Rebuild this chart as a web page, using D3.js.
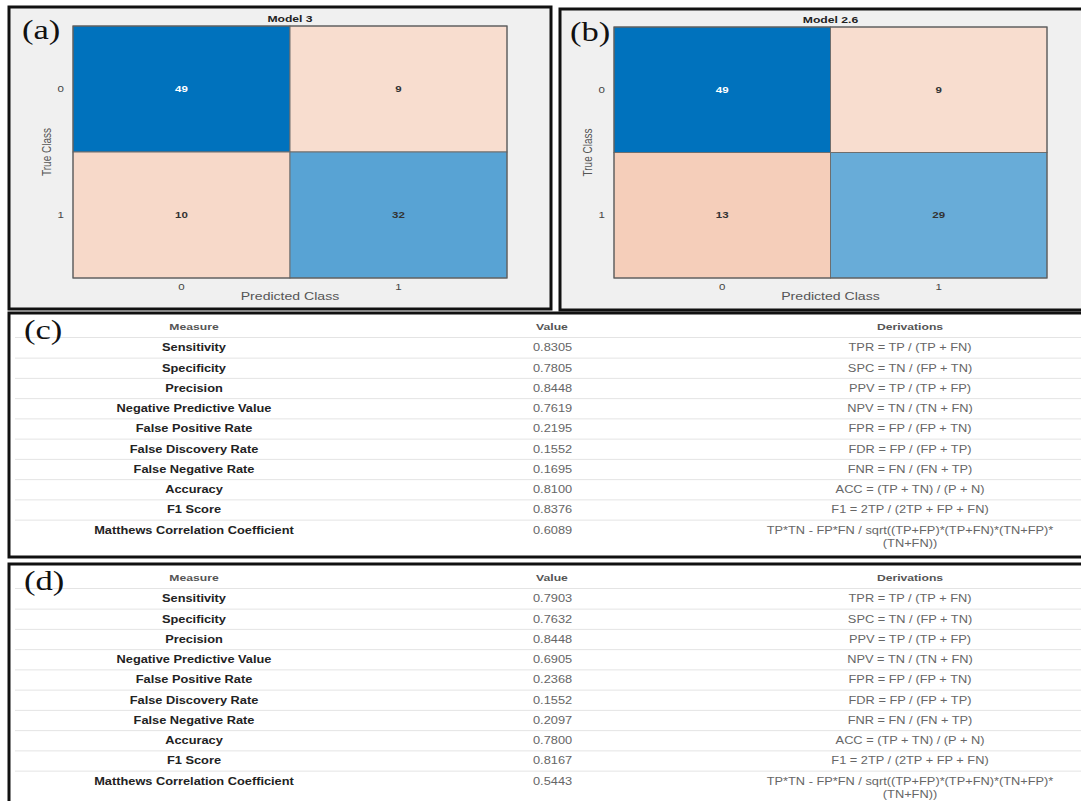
<!DOCTYPE html>
<html>
<head>
<meta charset="utf-8">
<script src="https://cdn.jsdelivr.net/npm/d3@7"></script>
<style>
  html, body { margin: 0; padding: 0; background: #ffffff; }
  svg { display: block; }
</style>
</head>
<body>
<svg id="fig" width="1081" height="801"></svg>
<script>
// ---- data -------------------------------------------------------------
const classes = ["0", "1"];
const model3Counts = [[49, 9], [10, 32]];
const model26Counts = [[49, 9], [13, 29]];

const measures = [
  "Sensitivity", "Specificity", "Precision", "Negative Predictive Value",
  "False Positive Rate", "False Discovery Rate", "False Negative Rate",
  "Accuracy", "F1 Score", "Matthews Correlation Coefficient"
];
const model3Values = ["0.8305", "0.7805", "0.8448", "0.7619", "0.2195",
  "0.1552", "0.1695", "0.8100", "0.8376", "0.6089"];
const model26Values = ["0.7903", "0.7632", "0.8448", "0.6905", "0.2368",
  "0.1552", "0.2097", "0.7800", "0.8167", "0.5443"];
const derivations = [
  ["TPR = TP / (TP + FN)"],
  ["SPC = TN / (FP + TN)"],
  ["PPV = TP / (TP + FP)"],
  ["NPV = TN / (TN + FN)"],
  ["FPR = FP / (FP + TN)"],
  ["FDR = FP / (FP + TP)"],
  ["FNR = FN / (FN + TP)"],
  ["ACC = (TP + TN) / (P + N)"],
  ["F1 = 2TP / (2TP + FP + FN)"],
  ["TP*TN - FP*FN / sqrt((TP+FP)*(TP+FN)*(TN+FP)*", "(TN+FN))"]
];
const tableHeaders = ["Measure", "Value", "Derivations"];

// ---- helpers ------------------------------------------------------------
const svg = d3.select("#fig");
const SX = 1.28;   // glyphs are drawn slightly wide

function label(g, x, y, str, o = {}) {
  return g.append("text")
    .attr("transform", `translate(${x},${y}) scale(${SX},1)`)
    .attr("text-anchor", o.anchor || "middle")
    .attr("dominant-baseline", o.baseline || "central")
    .attr("font-family", o.family || "Arial, 'Liberation Sans', Helvetica, sans-serif")
    .attr("font-size", o.size || 10)
    .attr("font-weight", o.weight || "normal")
    .attr("fill", o.fill || "#333")
    .text(str);
}

const allCounts = model3Counts.flat().concat(model26Counts.flat());
const maxCount = d3.max(allCounts);
const diagColor = d3.scaleLinear().domain([0, maxCount]).range(["#ffffff", "#0072BD"]);
const offColor = d3.scaleLinear().domain([0, maxCount]).range(["#ffffff", "#D95319"])
  .interpolate(d3.interpolateRgb.gamma(0.8));

// ---- confusion matrix panel ------------------------------------------
function matrixPanel(cfg) {
  const g = svg.append("g");
  g.append("rect")
    .attr("x", cfg.box[0]).attr("y", cfg.box[1])
    .attr("width", cfg.box[2] - cfg.box[0]).attr("height", cfg.box[3] - cfg.box[1])
    .attr("fill", "#f0f0f0").attr("stroke", "#111").attr("stroke-width", 3);

  const x = d3.scaleBand().domain(classes).range([cfg.plot[0], cfg.plot[2]]);
  const y = d3.scaleBand().domain(classes).range([cfg.plot[1], cfg.plot[3]]);

  const cells = [];
  cfg.counts.forEach((row, i) => row.forEach((v, j) =>
    cells.push({ t: classes[i], p: classes[j], v, diag: i === j })));

  g.selectAll("rect.cell").data(cells).join("rect")
    .attr("class", "cell")
    .attr("x", d => x(d.p)).attr("y", d => y(d.t))
    .attr("width", x.bandwidth()).attr("height", y.bandwidth())
    .attr("fill", d => d.diag ? diagColor(d.v) : offColor(d.v))
    .attr("stroke", "#6e6e6e").attr("stroke-width", 1);

  g.append("rect")
    .attr("x", cfg.plot[0]).attr("y", cfg.plot[1])
    .attr("width", cfg.plot[2] - cfg.plot[0]).attr("height", cfg.plot[3] - cfg.plot[1])
    .attr("fill", "none").attr("stroke", "#5a5a5a").attr("stroke-width", 1);

  cells.forEach(d => {
    label(g, x(d.p) + x.bandwidth() / 2, y(d.t) + y.bandwidth() / 2, String(d.v), {
      size: 9, weight: "bold",
      fill: d.diag && d.v / maxCount > 0.7 ? "#ffffff" : "#333"
    });
  });

  // axes
  classes.forEach(c => {
    label(g, cfg.plot[0] - 9, y(c) + y.bandwidth() / 2, c, { anchor: "end", size: 9, fill: "#444" });
    label(g, x(c) + x.bandwidth() / 2, cfg.plot[3] + 9, c, { size: 9, fill: "#444" });
  });
  label(g, (cfg.plot[0] + cfg.plot[2]) / 2, cfg.plot[3] + 19, "Predicted Class", { size: 11, fill: "#555" });
  const cy = (cfg.plot[1] + cfg.plot[3]) / 2;
  g.append("text")
    .attr("transform", `translate(${cfg.plot[0] - 26},${cy}) rotate(-90) scale(1,${SX})`)
    .attr("text-anchor", "middle").attr("dominant-baseline", "central")
    .attr("font-family", "Arial, 'Liberation Sans', sans-serif")
    .attr("font-size", 10).attr("fill", "#555")
    .text("True Class");
  label(g, (cfg.plot[0] + cfg.plot[2]) / 2, cfg.plot[1] - 7, cfg.title, { size: 9.5, weight: "bold", fill: "#222" });

  label(g, cfg.tag[0], cfg.tag[1], cfg.tagText, {
    anchor: "start", baseline: "alphabetic",
    family: "'Liberation Serif', 'Times New Roman', serif", size: 27, fill: "#111"
  });
}

matrixPanel({
  box: [9, 7, 551, 309], plot: [73, 26, 507, 278],
  counts: model3Counts, title: "Model 3", tag: [22, 39], tagText: "(a)"
});
matrixPanel({
  box: [560, 9, 1095, 310], plot: [614, 27, 1047, 278],
  counts: model26Counts, title: "Model 2.6", tag: [570, 41], tagText: "(b)"
});

// ---- metrics tables -------------------------------------------------------
function metricsTable(top, bottom, values, tagText) {
  const g = svg.append("g");
  g.append("rect")
    .attr("x", 9).attr("y", top).attr("width", 1100).attr("height", bottom - top)
    .attr("fill", "#ffffff").attr("stroke", "#111").attr("stroke-width", 3);

  const headerY = top + 14;
  const rowY = d3.scaleLinear().domain([0, measures.length - 1])
    .range([top + 35, top + 35 + 20.25 * (measures.length - 1)]);
  const step = rowY(1) - rowY(0);

  // row separators
  const seps = [headerY + 10.5].concat(d3.range(measures.length - 1).map(i => rowY(i) + step / 2));
  g.selectAll("line.sep").data(seps).join("line")
    .attr("class", "sep")
    .attr("x1", 15).attr("x2", 1081)
    .attr("y1", d => d).attr("y2", d => d)
    .attr("stroke", "#e4e4e4").attr("stroke-width", 1);

  const colX = { measure: 194, valueHead: 552, value: 533, deriv: 910 };
  label(g, colX.measure, headerY, tableHeaders[0], { size: 9.5, weight: "bold", fill: "#555" });
  label(g, colX.valueHead, headerY, tableHeaders[1], { size: 9.5, weight: "bold", fill: "#555" });
  label(g, colX.deriv, headerY, tableHeaders[2], { size: 9.5, weight: "bold", fill: "#555" });

  measures.forEach((m, i) => {
    const yy = rowY(i);
    label(g, colX.measure, yy, m, { size: 10, weight: "bold", fill: "#222" });
    label(g, colX.value, yy, values[i], { anchor: "start", size: 10, fill: "#666" });
    derivations[i].forEach((line, k) => {
      label(g, colX.deriv, yy + k * 13, line, { size: 10, fill: "#666" });
    });
  });

  label(g, 24, top + 26, tagText, {
    anchor: "start", baseline: "alphabetic",
    family: "'Liberation Serif', 'Times New Roman', serif", size: 27, fill: "#111"
  });
}

metricsTable(313, 557, model3Values, "(c)");
metricsTable(564, 830, model26Values, "(d)");
</script>
</body>
</html>
